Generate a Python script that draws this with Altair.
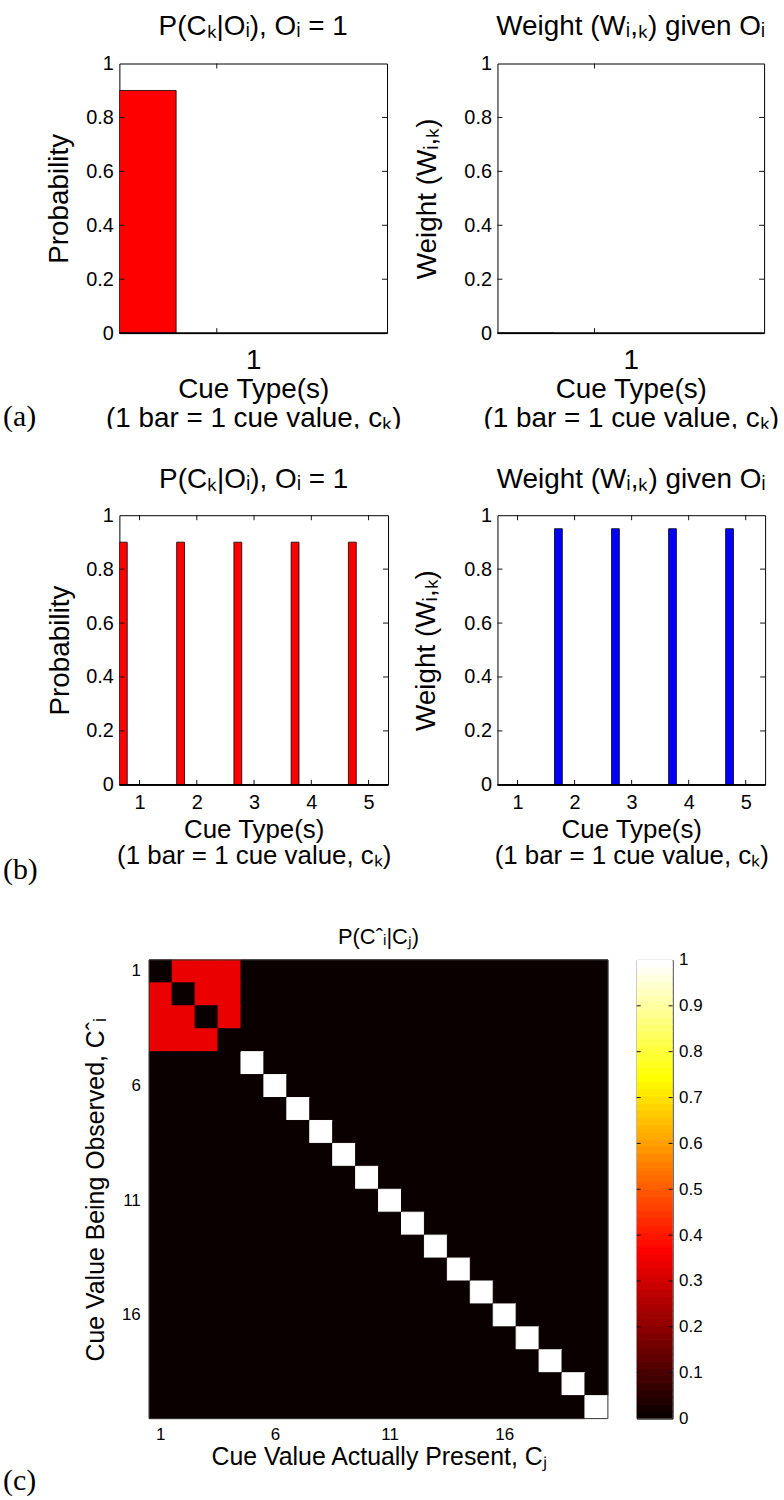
import altair as alt
import pandas as pd

SANS = "Liberation Sans"
SERIF = "Liberation Serif"
FMT = "format(datum.value, '.1~f')"

# ---------------- data ----------------
# (a) a single cue type
a_cues = [1]
a_prob = [0.9]
a_weight = [0.0]

# (b) five cue types
b_cues = [1, 2, 3, 4, 5]
b_prob = [0.9, 0.9, 0.9, 0.9, 0.9]
b_weight = [0.0, 0.95, 0.95, 0.95, 0.95]

prob_ticks = [0, 0.2, 0.4, 0.6, 0.8, 1]

# (c) P(C^_i | C_j) over 20 cue values: values 1-4 are confused with one
# another, values 5-20 are always observed as themselves
n_values = 20
confused_block = [
    [0, 1 / 3, 1 / 3, 1 / 3],
    [1 / 3, 0, 1 / 3, 1 / 3],
    [1 / 3, 1 / 3, 0, 1 / 3],
    [1 / 3, 1 / 3, 1 / 3, 0],
]
exact_values = list(range(5, 21))
value_ticks = [1, 6, 11, 16]
colorbar_ticks = [0, 0.1, 0.2, 0.3, 0.4, 0.5, 0.6, 0.7, 0.8, 0.9, 1]


def hot_colormap(n=64):
    """MATLAB-style 'hot' colormap with n entries."""
    n1 = int(3 * n / 8)
    n2 = n1
    n3 = n - n1 - n2
    out = []
    for k in range(1, n + 1):
        r = min(k / n1, 1.0)
        g = min(max((k - n1) / n2, 0.0), 1.0)
        b = min(max((k - n1 - n2) / n3, 0.0), 1.0)
        out.append("#%02x%02x%02x" % (round(r * 255), round(g * 255), round(b * 255)))
    return out


HOT = hot_colormap(64)
hot_scale = alt.Scale(type="quantize", domain=[0, 1], range=HOT, nice=False)

ONE = pd.DataFrame({"k": [0]})


def frame(w, h, left, top, right, bottom):
    # transparent box that fixes the panel's footprint in the layout
    return alt.Chart(ONE).mark_rect(opacity=0).encode(
        x=alt.value(-left), x2=alt.value(w + right),
        y=alt.value(-top), y2=alt.value(h + bottom))


def label(text, x, y, size, font=SANS, align="center", baseline="alphabetic"):
    return alt.Chart(ONE).mark_text(
        text=text, font=font, fontSize=size, align=align, baseline=baseline,
        color="black").encode(x=alt.value(x), y=alt.value(y))


def inward_ticks(values, scale, channel, x0, x1, h, length=5):
    """Short ticks pointing into the box from both edges."""
    df = pd.DataFrame({"t": values})
    base = alt.Chart(df).mark_rule(color="#111111", strokeWidth=1)
    if channel == "y":
        enc = alt.Y("t:Q", scale=scale)
        return alt.layer(
            base.encode(y=enc, x=alt.value(x0), x2=alt.value(x0 + length)),
            base.encode(y=enc, x=alt.value(x1 - length), x2=alt.value(x1)))
    enc = alt.X("t:Q", scale=scale)
    return alt.layer(
        base.encode(x=enc, y=alt.value(h - length), y2=alt.value(h)),
        base.encode(x=enc, y=alt.value(0), y2=alt.value(length)))


def bar_panel(cues, values, color, x_domain, bar_offsets, w, h, title, title_y,
              y_title, y_title_x, x_title, x_title_size, x_title_y, x_line_height,
              tick_labels, box, letter=None, letter_y=None, cut_below=None):
    df = pd.DataFrame({"cue": cues, "value": values})
    df["left"] = df["cue"] + bar_offsets[0]
    df["right"] = df["cue"] + bar_offsets[1]
    xs = alt.Scale(domain=x_domain, nice=False, zero=False)
    ys = alt.Scale(domain=[0, 1], nice=False)
    bars = alt.Chart(df).mark_rect(
        color=color, stroke="black", strokeWidth=0.8, clip=True
    ).encode(
        x=alt.X("left:Q", scale=xs, axis=alt.Axis(
            values=cues, labels=tick_labels, labelExpr=FMT, ticks=False,
            domain=False, grid=False, labelFontSize=20, labelPadding=8,
            title=x_title, titleFontSize=x_title_size, titleY=x_title_y,
            titleBaseline="alphabetic", titleLineHeight=x_line_height)),
        x2="right:Q",
        y=alt.Y("value:Q", scale=ys, axis=alt.Axis(
            values=prob_ticks, labelExpr=FMT, ticks=False, domain=False, grid=False,
            labelFontSize=20, labelPadding=6, title=y_title, titleFontSize=28,
            titleX=y_title_x, titleY=h / 2, titleAngle=270, titleAlign="center",
            titleBaseline="middle")),
        y2=alt.datum(0),
    )
    # bar baseline along the bottom of the box
    baseline = alt.Chart(ONE).mark_rule(color="black", strokeWidth=1.6).encode(
        y=alt.value(h), x=alt.value(0), x2=alt.value(w))
    layers = [
        frame(w, h, *box),
        bars,
        baseline,
        inward_ticks(prob_ticks[1:-1], ys, "y", 0, w, h),
        inward_ticks(cues, xs, "x", 0, w, h),
        label(title, w / 2, title_y, 28),
    ]
    if cut_below is not None:
        # the figure strip ends here: hide what falls below it
        layers.append(alt.Chart(ONE).mark_rect(color="white").encode(
            x=alt.value(-box[0]), x2=alt.value(w + box[2]),
            y=alt.value(h + cut_below), y2=alt.value(h + box[3])))
    if letter:
        layers.append(label(letter, -117, h + letter_y, 30, SERIF, "left", "middle"))
    return alt.layer(*layers).properties(
        width=w, height=h, view=alt.ViewBackground(stroke="black", strokeWidth=1))


TITLE_P = "P(Cₖ|Oᵢ), Oᵢ = 1"
TITLE_W = "Weight (Wᵢ,ₖ) given Oᵢ"
Y_P = "Probability"
Y_W = "Weight (Wᵢ,ₖ)"
X_A = ["1", "Cue Type(s)", "(1 bar = 1 cue value, cₖ)"]
X_B = ["Cue Type(s)", "(1 bar = 1 cue value, cₖ)"]

a_dom = [0.636, 1.636]
a_off = (-0.364, -0.152)
b_dom = [0.648, 5.34]
b_off = (-0.352, -0.215)

panel_a1 = bar_panel(a_cues, a_prob, "#ff0000", a_dom, a_off, 269, 271, TITLE_P, -29,
                     Y_P, -60, X_A, 28, 36, 29, False, (119, 59, 17, 115), "(a)", 84,
                     cut_below=96)
panel_a2 = bar_panel(a_cues, a_weight, "#0000ff", a_dom, a_off, 268, 271, TITLE_W, -29,
                     Y_W, -70, X_A, 28, 36, 29, False, (92, 59, 19, 115),
                     cut_below=96)
panel_b1 = bar_panel(b_cues, b_prob, "#ff0000", b_dom, b_off, 270, 271, TITLE_P, -27,
                     Y_P, -59, X_B, 26, 53, 26, True, (119, 66, 18, 108), "(b)", 86)
panel_b2 = bar_panel(b_cues, b_weight, "#0000ff", b_dom, b_off, 269, 271, TITLE_W, -27,
                     Y_W, -71, X_B, 26, 53, 26, True, (90, 66, 18, 108))

# ---- (c) heat map ----
cells = []
for i in range(1, n_values + 1):
    for j in range(1, n_values + 1):
        if i <= len(confused_block) and j <= len(confused_block):
            p = confused_block[i - 1][j - 1]
        elif i == j and i in exact_values:
            p = 1.0
        else:
            p = 0.0
        cells.append({"observed": i, "present": j, "p": p})
cells = pd.DataFrame(cells)

HM = 461          # matrix side
HX = 30           # matrix inset from the panel's left edge
HW = HX + HM
domain_ij = list(range(1, n_values + 1))
band_x = alt.Scale(domain=domain_ij, range=[HX, HW], paddingInner=0, paddingOuter=0)
band_y = alt.Scale(domain=domain_ij, paddingInner=0, paddingOuter=0)
heat = alt.Chart(cells).mark_rect(strokeWidth=1).encode(
    x=alt.X("present:O", scale=band_x, axis=alt.Axis(
        values=value_ticks, labelAngle=0, ticks=False, domain=False,
        labelFontSize=17, labelPadding=8,
        title="Cue Value Actually Present, Cⱼ", titleFontSize=25,
        titleX=HX + HM / 2, titleY=46, titleBaseline="alphabetic")),
    y=alt.Y("observed:O", scale=band_y, axis=alt.Axis(
        values=value_ticks, ticks=False, domain=False, offset=-HX,
        labelFontSize=17, labelPadding=9,
        title="Cue Value Being Observed, Cˆᵢ", titleFontSize=25,
        titleX=-54, titleY=HM / 2, titleAngle=270,
        titleAlign="center", titleBaseline="middle")),
    color=alt.Color("p:Q", scale=hot_scale, legend=None),
    stroke=alt.Stroke("p:Q", scale=hot_scale, legend=None),
)
# matrix background in the colour of zero, so no seams show between cells
matrix_bg = alt.Chart(ONE).mark_rect(color=HOT[0]).encode(
    x=alt.value(HX), x2=alt.value(HW), y=alt.value(0), y2=alt.value(HM))
border = alt.Chart(ONE).mark_rect(fillOpacity=0, stroke="#333333", strokeWidth=1).encode(
    x=alt.value(HX), x2=alt.value(HW), y=alt.value(0), y2=alt.value(HM))
heat_panel = alt.layer(
    frame(HW, HM, 119, 66, 14, 83),
    matrix_bg,
    heat,
    border,
    label("P(Cˆᵢ|Cⱼ)", HX + HM / 2, -16, 22),
    label("(c)", -117, HM + 63, 30, SERIF, "left", "middle"),
).properties(width=HW, height=HM,
             view=alt.ViewBackground(stroke="transparent", strokeWidth=0))

# ---- colour bar ----
CBW = 36
n_levels = len(HOT)
levels = pd.DataFrame({"level": list(range(n_levels))})
levels["lo"] = levels["level"] / n_levels
levels["hi"] = (levels["level"] + 1) / n_levels
levels["mid"] = (levels["level"] + 0.5) / n_levels
cb_scale = alt.Scale(domain=[0, 1], nice=False)
cbar = alt.Chart(levels).mark_rect(strokeWidth=1, clip=True).encode(
    x=alt.value(0), x2=alt.value(CBW),
    y=alt.Y("lo:Q", scale=cb_scale, axis=alt.Axis(
        orient="right", values=colorbar_ticks, labelExpr=FMT, ticks=False,
        domain=False, grid=False, labelFontSize=17, labelPadding=6, title=None)),
    y2="hi:Q",
    color=alt.Color("mid:Q", scale=hot_scale, legend=None),
    stroke=alt.Stroke("mid:Q", scale=hot_scale, legend=None),
)
cbar_panel = alt.layer(
    frame(CBW, HM, 14, 66, 110, 83),
    cbar,
    inward_ticks(colorbar_ticks[1:-1], cb_scale, "y", 0, CBW, HM, 4),
).properties(width=CBW, height=HM,
             view=alt.ViewBackground(stroke="black", strokeWidth=1))

row1 = alt.hconcat(panel_a1, panel_a2, spacing=0)
row2 = alt.hconcat(panel_b1, panel_b2, spacing=0)
row3 = alt.hconcat(heat_panel, cbar_panel, spacing=0)

chart = alt.vconcat(row1, row2, row3, spacing=0).properties(
    padding=0, background="white"
).configure(font=SANS).configure_axis(
    labelColor="black", titleColor="black", titleFontWeight="normal",
    labelFont=SANS, titleFont=SANS,
)

chart.save("out.html", embed_options={"renderer": "svg", "actions": False})
